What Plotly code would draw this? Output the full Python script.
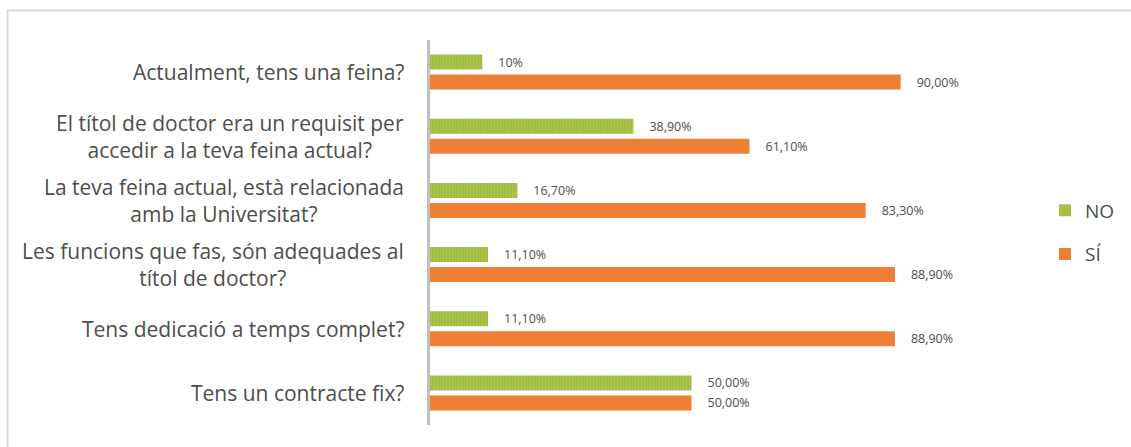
import plotly.graph_objects as go

categories = [
    "Actualment, tens una feina?",
    "El títol de doctor era un requisit per<br>accedir a la teva feina actual?",
    "La teva feina actual, està relacionada<br>amb la Universitat?",
    "Les funcions que fas, són adequades al<br>títol de doctor?",
    "Tens dedicació a temps complet?",
    "Tens un contracte fix?",
]
no_values = [10, 38.9, 16.7, 11.1, 11.1, 50]
si_values = [90, 61.1, 83.3, 88.9, 88.9, 50]
no_labels = ["10%", "38,90%", "16,70%", "11,10%", "11,10%", "50,00%"]
si_labels = ["90,00%", "61,10%", "83,30%", "88,90%", "88,90%", "50,00%"]

W, H = 1131, 447
L, R, T, B = 430, 178, 40, 22
pw, ph = W - L - R, H - T - B

FONT = "Open Sans"
TXT = "#4D4D4D"
PAD = "    "

fig = go.Figure()
fig.add_trace(go.Bar(
    y=categories, x=no_values, name="NO", orientation="h",
    text=[PAD + t for t in no_labels], textposition="outside", constraintext="none",
    textfont=dict(family=FONT, size=12.5, color=TXT), cliponaxis=False,
    marker=dict(color="#A4C24A", line=dict(width=0),
                pattern=dict(shape="|", fgcolor="#CFCB30", bgcolor="#98BC4E", size=3, solidity=0.5)),
    legendgroup="no",
))
fig.add_trace(go.Bar(
    y=categories, x=si_values, name="SÍ", orientation="h",
    text=[PAD + t for t in si_labels], textposition="outside", constraintext="none",
    textfont=dict(family=FONT, size=12.5, color=TXT), cliponaxis=False,
    marker=dict(color="#ED7D31", line=dict(width=0),
                pattern=dict(shape="|", fgcolor="#F08740", bgcolor="#ED7D31", size=4, solidity=0.4)),
    legendgroup="si",
))

annotations = []
for c in categories:
    annotations.append(dict(
        x=0, y=c, xref="x", yref="y", text=c, showarrow=False,
        xanchor="right", yanchor="middle", align="center", xshift=-24,
        font=dict(family=FONT, size=21, color=TXT),
    ))

shapes = [dict(
    type="rect", xref="paper", yref="paper",
    x0=(7.5 - L) / pw, x1=(W + 10 - L) / pw,
    y0=(H - B - (H + 10)) / ph, y1=(H - B - 10.5) / ph,
    line=dict(color="#D9D9D9", width=2), fillcolor="rgba(0,0,0,0)", layer="below",
)]

fig.update_layout(
    width=W, height=H,
    margin=dict(l=L, r=R, t=T, b=B, autoexpand=False),
    paper_bgcolor="white", plot_bgcolor="white",
    barmode="group", bargap=0.377, bargroupgap=0.25,
    font=dict(family=FONT, color=TXT),
    xaxis=dict(visible=False, range=[0, 100]),
    yaxis=dict(autorange="reversed", showticklabels=False, showgrid=False,
               showline=True, linecolor="#BFBFBF", linewidth=3, zeroline=False, ticks=""),
    legend=dict(x=(1045 - L) / pw, xanchor="left", y=0.5, yanchor="middle",
                font=dict(family=FONT, size=19, color=TXT), tracegroupgap=16,
                traceorder="grouped", itemwidth=30),
    annotations=annotations,
    shapes=shapes,
    showlegend=True,
)

fig.write_html("out.html", config={"displayModeBar": False},
               post_script="document.body.style.margin='0px';")
